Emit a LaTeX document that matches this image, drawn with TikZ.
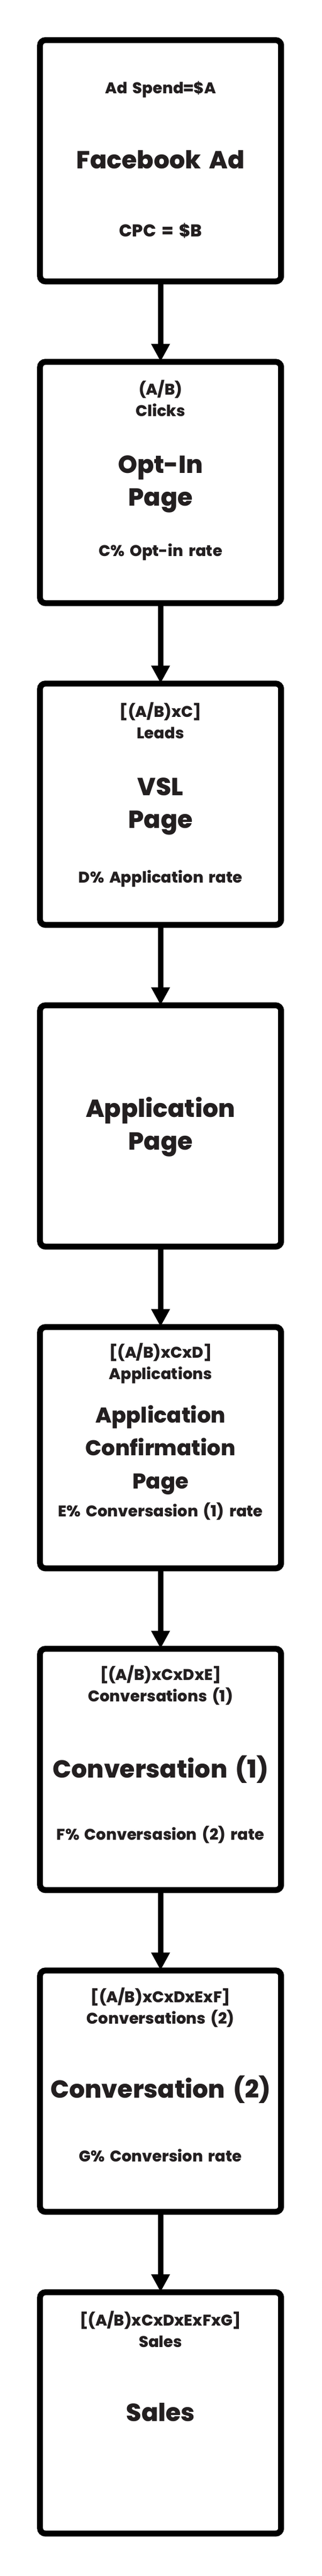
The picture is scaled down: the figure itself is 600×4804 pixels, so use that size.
\documentclass[tikz,border=0pt]{standalone}
\usepackage{fontspec}
\IfFontExistsTF{Poppins ExtraBold}
    {\setmainfont{Poppins}[BoldFont={Poppins ExtraBold}]}
    {\setmainfont{Poppins}[BoldFeatures={FakeBold=2.5}]}
\usetikzlibrary{positioning,arrows.meta}
\definecolor{ink}{HTML}{231F20}
\tikzset{
    stage/.style={draw=black, line width=11pt, rounded corners=10pt,
        minimum width=450pt, minimum height=450pt, inner sep=0pt},
    small/.style={text=ink, text width=440pt, align=center, anchor=base,
        inner sep=0pt, font=\bfseries\fontsize{29}{40.5}\selectfont},
    big/.style={text=ink, text width=440pt, align=center, anchor=base,
        inner sep=0pt, font=\bfseries\fontsize{46}{61.5}\selectfont},
    flow/.style={black, line width=10pt, shorten >=-5pt,
        -{Triangle[width=33pt, length=33pt]}},
}
\begin{document}
\begin{tikzpicture}[x=1pt, y=1pt, node distance=139pt]
    \useasboundingbox (0, 0) rectangle (600, -4804);
    % boxes
    \node[stage] (ad) at (299.7, -299.8) {};
    \node[stage, below=of ad] (optin) {};
    \node[stage, below=of optin] (vsl) {};
    \node[stage, below=of vsl] (apply) {};
    \node[stage, below=of apply] (confirm) {};
    \node[stage, below=of confirm] (conva) {};
    \node[stage, below=of conva] (convb) {};
    \node[stage, below=of convb] (sales) {};
    % facebook ad
    \node[small] (adtop) at ([yshift=-105pt]ad.north) {Ad Spend=\$A};
    \node[big] (admain) at ([yshift=-245pt]ad.north) {Facebook Ad};
    \node[small, font=\bfseries\fontsize{32}{40.5}\selectfont] (adbot) at ([yshift=-372pt]ad.north) {CPC = \$B};
    % opt-in page
    \node[small] (optintop) at ([yshift=-67pt]optin.north) {(A/B)\\Clicks};
    \node[big] (optinmain) at ([yshift=-213pt]optin.north) {Opt-In\\Page};
    \node[small] (optinbot) at ([yshift=-368pt]optin.north) {C\% Opt-in rate};
    % vsl page
    \node[small] (vsltop) at ([yshift=-68pt]vsl.north) {[(A/B)xC]\\Leads};
    \node[big] (vslmain) at ([yshift=-214pt]vsl.north) {VSL\\Page};
    \node[small] (vslbot) at ([yshift=-377pt]vsl.north) {D\% Application rate};
    % application page
    \node[big] (applymain) at ([yshift=-214pt]apply.north) {Application\\Page};
    % confirmation page
    \node[small] (confirmtop) at ([yshift=-63pt]confirm.north) {[(A/B)xCxD]\\Applications};
    \node[big, font=\bfseries\fontsize{40}{61.5}\selectfont] (confirmmain) at ([yshift=-184pt]confirm.north) {Application\\Confirmation\\Page};
    \node[small] (confirmbot) at ([yshift=-359pt]confirm.north) {E\% Conversasion (1) rate};
    % conversation 1
    \node[small] (convatop) at ([yshift=-64pt]conva.north) {[(A/B)xCxDxE]\\Conversations (1)};
    \node[big] (convamain) at ([yshift=-246pt]conva.north) {Conversation (1)};
    \node[small] (convabot) at ([yshift=-362pt]conva.north) {F\% Conversasion (2) rate};
    % conversation 2
    \node[small] (convbtop) at ([yshift=-65pt]convb.north) {[(A/B)xCxDxExF]\\Conversations (2)};
    \node[big] (convbmain) at ([yshift=-243pt]convb.north) {Conversation (2)};
    \node[small] (convbbot) at ([yshift=-362pt]convb.north) {G\% Conversion rate};
    % sales
    \node[small] (salestop) at ([yshift=-68pt]sales.north) {[(A/B)xCxDxExFxG]\\Sales};
    \node[big] (salesmain) at ([yshift=-246pt]sales.north) {Sales};
    % arrows
    \draw[flow] (ad) -- (optin);
    \draw[flow] (optin) -- (vsl);
    \draw[flow] (vsl) -- (apply);
    \draw[flow] (apply) -- (confirm);
    \draw[flow] (confirm) -- (conva);
    \draw[flow] (conva) -- (convb);
    \draw[flow] (convb) -- (sales);
\end{tikzpicture}
\end{document}
